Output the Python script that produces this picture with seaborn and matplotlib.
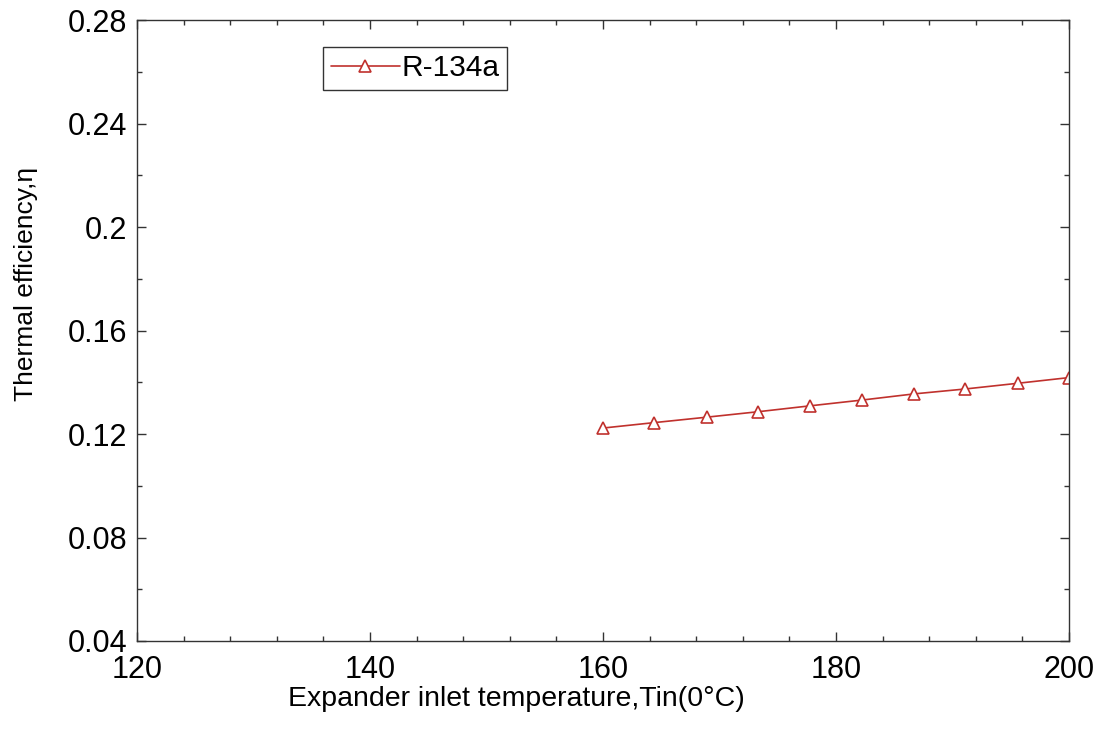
import matplotlib
matplotlib.use("Agg")
import matplotlib.pyplot as plt
from matplotlib.ticker import MultipleLocator
import numpy as np
import pandas as pd
import seaborn as sns

# Expander inlet temperature (°C) and thermal efficiency for R-134a
temperature = [160.0, 164.4, 168.9, 173.3, 177.8, 182.2, 186.7, 191.1, 195.6, 200.0]
efficiency = [0.1223, 0.1244, 0.1265, 0.1286, 0.1309, 0.1331, 0.1355, 0.1374, 0.1396, 0.1418]
fluid = "R-134a"

x_ticks = [120, 140, 160, 180, 200]
y_ticks = [0.04, 0.08, 0.12, 0.16, 0.2, 0.24, 0.28]
y_tick_labels = ["0.04", "0.08", "0.12", "0.16", "0.2", "0.24", "0.28"]

df = pd.DataFrame({"T": temperature, "eta": efficiency, "fluid": fluid})

sns.set_theme(style="white")
plt.rcParams["font.family"] = ["Liberation Sans", "DejaVu Sans"]
plt.rcParams["text.color"] = "black"

fig = plt.figure(figsize=(11.03, 7.44), dpi=100)
ax = fig.add_axes([137 / 1103, 1 - 641 / 744, 932 / 1103, 621 / 744])

red = "#c0312d"
sns.lineplot(data=df, x="T", y="eta", ax=ax, color=red, linewidth=1.2,
             marker="^", markersize=9, markerfacecolor="white",
             markeredgecolor=red, markeredgewidth=1.2, label=fluid)

ax.set_xlim(120, 200)
ax.set_ylim(0.04, 0.28)
ax.set_xticks(x_ticks)
ax.set_yticks(y_ticks)
ax.set_yticklabels(y_tick_labels)
ax.xaxis.set_minor_locator(MultipleLocator(4))
ax.yaxis.set_minor_locator(MultipleLocator(0.02))

ax.tick_params(which="both", direction="in", top=True, right=True,
               bottom=True, left=True, colors="#333333", labelcolor="black")
ax.tick_params(which="major", length=6.5, width=1.0, labelsize=22)
ax.tick_params(axis="x", which="major", pad=10)
ax.tick_params(axis="y", which="major", pad=7)
ax.tick_params(which="minor", length=3.6, width=1.0)
for s in ax.spines.values():
    s.set_visible(True)
    s.set_color("#333333")
    s.set_linewidth(1.0)

ax.set_xlabel("Expander inlet temperature,Tin(0°C)", fontsize=20.5, color="black")
ax.set_ylabel("Thermal efficiency,η", fontsize=19, color="black")
ax.xaxis.set_label_coords(0.407, -0.072)
ax.yaxis.set_label_coords(-0.106, 0.575)

leg = ax.legend(loc="upper left", bbox_to_anchor=(0.2, 0.957), fontsize=21.5,
                frameon=True, fancybox=False, framealpha=1, edgecolor="#333333",
                handlelength=2.3, handletextpad=0.05, borderpad=0.25,
                borderaxespad=0)
leg.get_frame().set_linewidth(1.0)
for t in leg.get_texts():
    t.set_color("black")

fig.savefig("out.png", dpi=100)
